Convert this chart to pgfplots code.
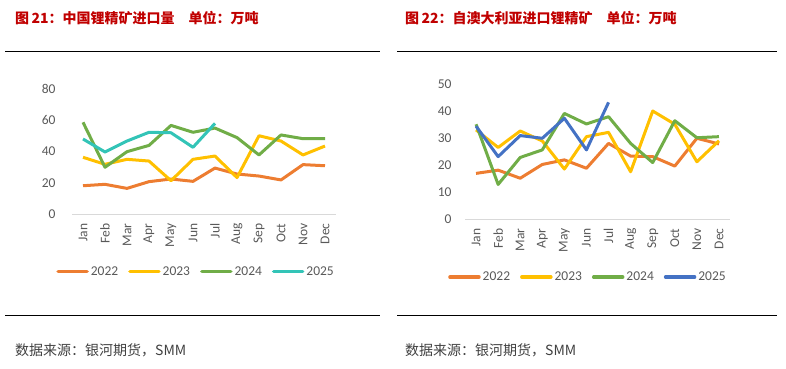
\documentclass[border=0pt]{standalone}
\usepackage{pgfplots}
\pgfplotsset{compat=1.18}
\usepackage{fontspec}
\setmainfont{Carlito}
\newfontfamily\cjk{Noto Sans CJK SC}
\definecolor{c22}{HTML}{ED7D31}
\definecolor{c23}{HTML}{FFC000}
\definecolor{c24}{HTML}{70AD47}
\definecolor{c25a}{HTML}{33C4B7}
\definecolor{c25b}{HTML}{4472C4}
\definecolor{tickc}{HTML}{595959}
\definecolor{titlered}{HTML}{C00000}
\pgfplotsset{
  mystyle/.style={
    scale only axis,
    xmin=-0.5, xmax=11.5, ymin=0,
    xtick={0,...,11},
    xticklabels={Jan,Feb,Mar,Apr,May,Jun,Jul,Aug,Sep,Oct,Nov,Dec},
    axis x line=bottom, axis y line=left,
    x axis line style={-, draw=black!15, line width=0.9pt},
    y axis line style={draw=none},
    major tick length=0pt,
    /pgf/number format/assume math mode=true,
    tick label style={font=\fontsize{13.5}{13.5}\selectfont, text=tickc},
    x tick label style={rotate=90, anchor=east, xshift=-6pt},
    y tick label style={xshift=-10pt},
    clip=false,
    legend columns=4,
    legend style={draw=none, fill=none, font=\fontsize{13.5}{13.5}\selectfont, text=tickc, anchor=center,
      /tikz/every even column/.append style={column sep=8pt},
      inner sep=0pt},
    legend cell align=left,
    legend image code/.code={\draw[#1, line width=3.5pt, line cap=round] (0pt,0pt) -- (29pt,0pt);},
    every axis plot/.append style={line width=3pt, line join=round, no markers},
  }
}
\begin{document}
\begin{tikzpicture}
\path (0pt,0pt) rectangle (786pt,-368pt);
% titles
\node[anchor=west, text=titlered, inner sep=0pt, font=\cjk\bfseries\fontsize{14}{14}\selectfont] at (15pt,-18pt) {图\,21：中国锂精矿进口量\quad 单位：万吨};
\node[anchor=west, text=titlered, inner sep=0pt, font=\cjk\bfseries\fontsize{14}{14}\selectfont] at (405pt,-18pt) {图\,22：自澳大利亚进口锂精矿\quad 单位：万吨};
\draw[line width=0.9pt] (5pt,-51.5pt) -- (380pt,-51.5pt);
\draw[line width=0.9pt] (397pt,-51.5pt) -- (777pt,-51.5pt);
\draw[line width=0.9pt] (5pt,-315pt) -- (380pt,-315pt);
\draw[line width=0.9pt] (397pt,-315pt) -- (777pt,-315pt);
\node[anchor=west, text=black!75, inner sep=0pt, font=\cjk\fontsize{14}{14}\selectfont] at (15pt,-350pt) {数据来源：银河期货，SMM};
\node[anchor=west, text=black!75, inner sep=0pt, font=\cjk\fontsize{14}{14}\selectfont] at (405pt,-350pt) {数据来源：银河期货，SMM};

\begin{axis}[mystyle, at={(72pt,-214pt)}, anchor=south west, width=264pt, height=125pt,
  ymax=80, ytick={0,20,40,60,80}, y tick label style={xshift=-3pt},
  legend style={at={(0.47,-0.46)}}]
\addplot[c22] coordinates {(0,18.1) (1,19.0) (2,16.4) (3,20.7) (4,22.4) (5,20.9) (6,29.4) (7,25.6) (8,24.3) (9,21.8) (10,31.6) (11,30.9)};
\addlegendentry{2022}
\addplot[c23] coordinates {(0,36.3) (1,31.8) (2,35.0) (3,33.9) (4,21.3) (5,35.0) (6,37.1) (7,23.3) (8,50.1) (9,46.7) (10,37.8) (11,43.5)};
\addlegendentry{2023}
\addplot[c24] coordinates {(0,58.7) (1,29.9) (2,39.9) (3,43.9) (4,56.7) (5,52.3) (6,55.0) (7,48.9) (8,37.8) (9,50.6) (10,48.2) (11,48.2)};
\addlegendentry{2024}
\addplot[c25a] coordinates {(0,48.0) (1,39.7) (2,46.7) (3,52.3) (4,52.0) (5,42.7) (6,58.0)};
\addlegendentry{2025}
\end{axis}

\begin{axis}[mystyle, at={(465pt,-219pt)}, anchor=south west, width=265pt, height=135pt,
  ymax=50, ytick={0,10,20,30,40,50},
  legend style={at={(0.464,-0.43)}}]
\addplot[c22] coordinates {(0,16.9) (1,18.1) (2,15.1) (3,20.2) (4,21.9) (5,18.8) (6,28.0) (7,23.3) (8,23.1) (9,19.6) (10,29.9) (11,27.8)};
\addlegendentry{2022}
\addplot[c23] coordinates {(0,33.0) (1,26.5) (2,32.6) (3,28.9) (4,18.5) (5,30.5) (6,32.1) (7,17.5) (8,40.0) (9,35.1) (10,21.2) (11,29.0)};
\addlegendentry{2023}
\addplot[c24] coordinates {(0,35.1) (1,12.8) (2,22.8) (3,25.6) (4,39.1) (5,35.2) (6,37.9) (7,28.0) (8,20.9) (9,36.4) (10,30.1) (11,30.5)};
\addlegendentry{2024}
\addplot[c25b] coordinates {(0,34.4) (1,23.1) (2,30.9) (3,29.9) (4,37.3) (5,25.6) (6,43.2)};
\addlegendentry{2025}
\end{axis}
\end{tikzpicture}
\end{document}
